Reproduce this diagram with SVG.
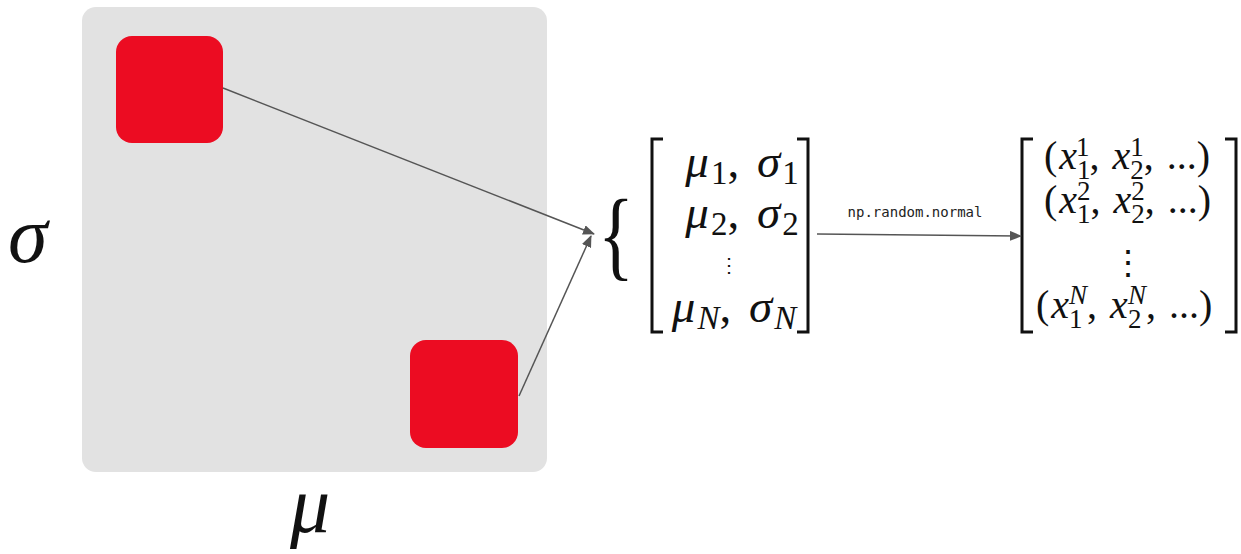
<svg xmlns="http://www.w3.org/2000/svg" width="1241" height="554" viewBox="0 0 1241 554">
<style>
.i{font-style:italic}
.br{fill:none;stroke:#111;stroke-width:3}
.c{stroke:#555;stroke-width:1.5;fill:none}
.red{fill:#ec0c22}
.p{font-size:47px}
.s{font-size:33px}
.q{font-size:40px}
.t{font-size:27px}
</style>
<defs>
<marker id="ah" markerWidth="12" markerHeight="10" refX="11" refY="5" orient="auto" markerUnits="userSpaceOnUse">
<path d="M0,0 L12,5 L0,10 z" fill="#555"/>
</marker>
</defs>
<g id="grid">
<rect x="82" y="7" width="465" height="465" rx="14" fill="#e2e2e2"/>
</g>
<g id="cell1"><rect class="red" x="116" y="36" width="107" height="107" rx="16"/></g>
<g id="cell2"><rect class="red" x="410" y="340" width="108" height="108" rx="16"/></g>
<g id="axes" font-family="Liberation Serif, serif" fill="#111">
<text class="i" x="8" y="262" font-size="80">σ</text>
<text class="i" x="290" y="532" font-size="80">μ</text>
</g>
<g id="params" font-family="Liberation Serif, serif" fill="#111">
<text x="598" y="268" font-size="100" transform="translate(598 0) scale(0.75 1) translate(-598 0)">{</text>
<path class="br" d="M663,139 H652 V332 H663"/>
<path class="br" d="M797,139 H808 V332 H797"/>
<text class="p" text-anchor="middle" x="742" y="177"><tspan class="i">μ</tspan><tspan class="s" dx="2" dy="7">1</tspan><tspan dy="-7">, </tspan><tspan class="i" dx="6">σ</tspan><tspan class="s" dx="2" dy="7">1</tspan></text>
<text class="p" text-anchor="middle" x="742" y="228"><tspan class="i">μ</tspan><tspan class="s" dx="2" dy="7">2</tspan><tspan dy="-7">, </tspan><tspan class="i" dx="6">σ</tspan><tspan class="s" dx="2" dy="7">2</tspan></text>
<text x="729" y="272" font-size="20" text-anchor="middle">⋮</text>
<text class="p" text-anchor="middle" x="734" y="322"><tspan class="i">μ</tspan><tspan class="s i" dx="2" dy="7">N</tspan><tspan dy="-7">, </tspan><tspan class="i" dx="6">σ</tspan><tspan class="s i" dx="2" dy="7">N</tspan></text>
</g>
<g id="samples" font-family="Liberation Serif, serif" fill="#111">
<path class="br" d="M1033,139 H1022 V332 H1033"/>
<path class="br" d="M1225,139 H1236 V332 H1225"/>
<text class="q" x="1044" y="169">(<tspan class="i" dx="2">x</tspan><tspan class="t" dy="10">1</tspan><tspan class="t" dx="-13.5" dy="-23">1</tspan><tspan dy="13">, </tspan><tspan class="i" dx="3">x</tspan><tspan class="t" dy="10">2</tspan><tspan class="t" dx="-13.5" dy="-23">1</tspan><tspan dy="13">, </tspan><tspan dx="3">...)</tspan></text>
<text class="q" x="1044" y="213">(<tspan class="i" dx="2">x</tspan><tspan class="t" dy="10">1</tspan><tspan class="t" dx="-13.5" dy="-23">2</tspan><tspan dy="13">, </tspan><tspan class="i" dx="3">x</tspan><tspan class="t" dy="10">2</tspan><tspan class="t" dx="-13.5" dy="-23">2</tspan><tspan dy="13">, </tspan><tspan dx="3">...)</tspan></text>
<text x="1128" y="274" font-size="34" text-anchor="middle">⋮</text>
<text class="q" x="1036" y="318">(<tspan class="i" dx="2">x</tspan><tspan class="t" dy="10">1</tspan><tspan class="t i" dx="-13.5" dy="-24">N</tspan><tspan dy="14">, </tspan><tspan class="i" dx="3">x</tspan><tspan class="t" dy="10">2</tspan><tspan class="t i" dx="-13.5" dy="-24">N</tspan><tspan dy="14">, </tspan><tspan dx="3">...)</tspan></text>
</g>
<g id="connectors">
<line class="c" x1="223" y1="88" x2="594" y2="234" marker-end="url(#ah)"/>
<line class="c" x1="519" y1="396" x2="591" y2="236" marker-end="url(#ah)"/>
<line class="c" x1="817" y1="234" x2="1021" y2="236" marker-end="url(#ah)"/>
<text x="915" y="217" font-family="DejaVu Sans Mono, Liberation Mono, monospace" font-size="14" fill="#222" text-anchor="middle">np.random.normal</text>
</g>
</svg>
